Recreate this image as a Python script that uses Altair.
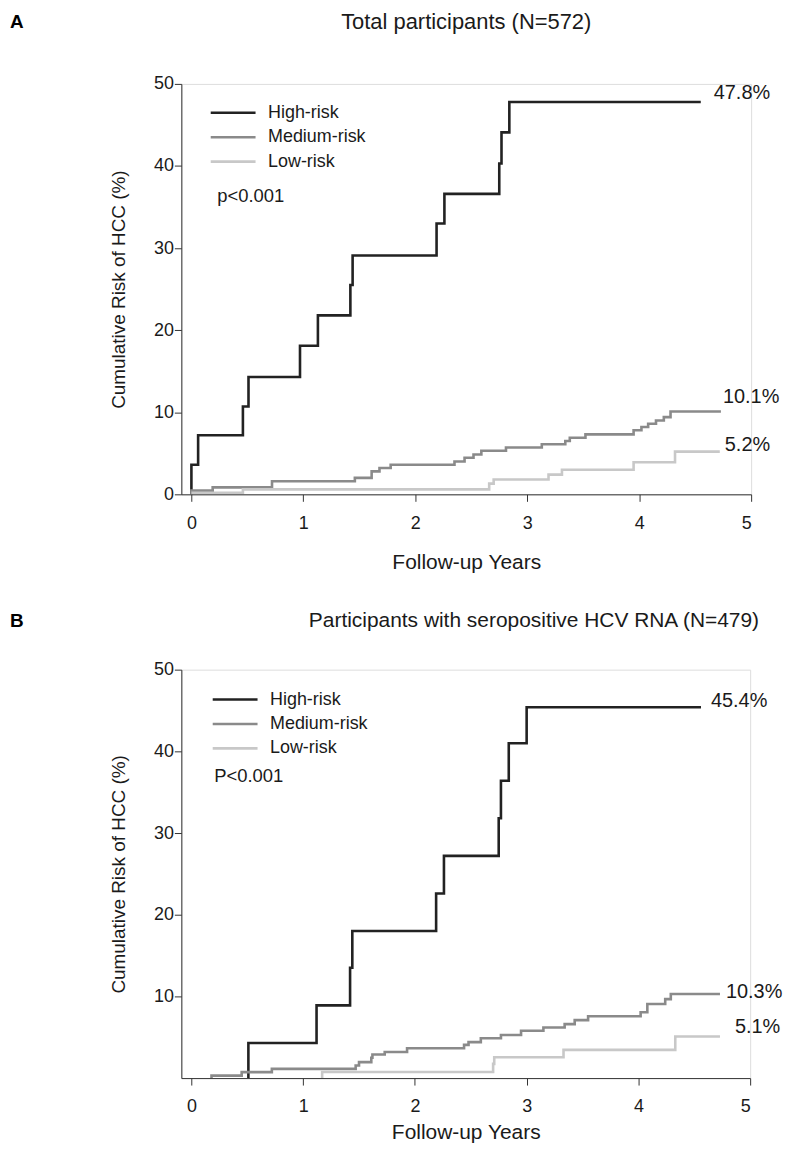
import altair as alt
import pandas as pd

groups = ["High-risk", "Medium-risk", "Low-risk"]
colors = ["#222222", "#8a8a8a", "#c8c8c8"]

# Panel A (Total participants)
A_high_t = [0, 0, 0.06, 0.46, 0.51, 0.97, 1.13, 1.42, 1.44, 2.19, 2.26, 2.75, 2.77, 2.84, 4.55]
A_high_v = [0, 3.6, 7.2, 10.7, 14.3, 18.1, 21.8, 25.5, 29.1, 33.0, 36.6, 40.3, 44.1, 47.8, 47.8]
A_med_t = [0, 0, 0.19, 0.72, 1.46, 1.61, 1.68, 1.78, 2.35, 2.44, 2.52, 2.59, 2.81, 3.13, 3.34,
           3.38, 3.52, 3.95, 4.02, 4.08, 4.15, 4.22, 4.28, 4.73]
A_med_v = [0, 0.45, 0.85, 1.6, 2.0, 2.8, 3.2, 3.6, 4.0, 4.45, 4.85, 5.3, 5.7, 6.1, 6.5,
           6.9, 7.3, 7.8, 8.2, 8.6, 9.0, 9.4, 10.1, 10.1]
A_low_t = [0, 0.46, 2.66, 2.70, 3.19, 3.31, 3.95, 4.32, 4.72]
A_low_v = [0.2, 0.6, 1.3, 1.8, 2.4, 3.0, 3.9, 5.2, 5.2]

# Panel B (seropositive HCV RNA)
B_high_t = [0.51, 0.51, 1.12, 1.42, 1.44, 2.19, 2.26, 2.75, 2.77, 2.84, 3.0, 4.56]
B_high_v = [0, 4.3, 8.9, 13.5, 18.0, 22.6, 27.2, 31.8, 36.4, 41.0, 45.4, 45.4]
B_med_t = [0.18, 0.18, 0.45, 0.72, 1.47, 1.50, 1.61, 1.62, 1.73, 1.93, 2.44, 2.48, 2.59, 2.77,
           2.95, 3.15, 3.34, 3.43, 3.55, 4.02, 4.08, 4.24, 4.29, 4.73]
B_med_v = [0, 0.3, 0.73, 1.13, 1.54, 1.95, 2.48, 2.88, 3.2, 3.66, 4.06, 4.4, 4.88, 5.28,
           5.8, 6.2, 6.6, 7.1, 7.56, 8.05, 9.06, 9.67, 10.3, 10.3]
B_low_t = [1.17, 1.17, 2.70, 2.71, 3.33, 4.33, 4.73]
B_low_v = [0, 0.75, 1.74, 2.56, 3.45, 5.1, 5.1]

A_end_text = ["47.8%", "10.1%", "5.2%"]
B_end_text = ["45.4%", "10.3%", "5.1%"]

FONT = "Liberation Sans"
TXT = "#1a1a1a"


def make_df(series):
    rows = []
    for g, ts, vs in series:
        for i, (t, v) in enumerate(zip(ts, vs)):
            rows.append({"group": g, "t": t, "v": v, "i": i})
    return pd.DataFrame(rows)


def panel(series, end_texts, end_offsets, letter, title, title_x, title_align, title_y,
          title_size, pval, pval_xy, y_ticks, w, h, legend_x, legend_y, xt_pad):
    df = make_df(series)
    xs = alt.Scale(domain=[-0.09, 5], nice=False, zero=False)
    ys = alt.Scale(domain=[0, 50], nice=False)
    xaxis = alt.Axis(values=[0, 1, 2, 3, 4, 5], format="d", title="Follow-up Years", grid=False,
                     tickSize=7, labelFontSize=18, titleFontSize=21, titleFontWeight="normal",
                     labelPadding=13, titlePadding=xt_pad, domainColor="#333", tickColor="#333",
                     labelColor=TXT, titleColor=TXT, labelFont=FONT, titleFont=FONT)
    yaxis = alt.Axis(values=y_ticks, format="d", title="Cumulative Risk of HCC (%)", grid=False,
                     tickSize=7, labelFontSize=18, titleFontSize=19, titleFontWeight="normal",
                     labelPadding=1, titlePadding=25, domainColor="#333", tickColor="#333",
                     labelColor=TXT, titleColor=TXT, labelFont=FONT, titleFont=FONT)
    lines = alt.Chart(df).mark_line(interpolate="step-after", strokeWidth=2.6).encode(
        x=alt.X("t:Q", scale=xs, axis=xaxis),
        y=alt.Y("v:Q", scale=ys, axis=yaxis),
        color=alt.Color("group:N", scale=alt.Scale(domain=groups, range=colors),
                        legend=alt.Legend(title=None, orient="none", legendX=legend_x,
                                          legendY=legend_y, symbolType="M-3,0H3",
                                          symbolSize=225, symbolStrokeWidth=2.6,
                                          labelFontSize=18, labelFont=FONT, labelColor=TXT,
                                          labelOffset=26, rowPadding=6.5, padding=0)),
        order=alt.Order("i:Q"),
    )
    layers = [lines]
    ends = []
    for g, ts, vs in series:
        ends.append((ts[-1], vs[-1]))
    for (t, v), txt, (dx, dy) in zip(ends, end_texts, end_offsets):
        d = pd.DataFrame({"t": [t], "v": [v], "label": [txt]})
        layers.append(alt.Chart(d).mark_text(align="left", baseline="middle", dx=dx, dy=dy,
                                             fontSize=20, font=FONT, color=TXT).encode(
            x=alt.X("t:Q", scale=xs), y=alt.Y("v:Q", scale=ys), text="label:N"))
    ann = pd.DataFrame({"k": [0]})
    layers.append(alt.Chart(ann).mark_text(align="left", baseline="middle", fontSize=18.5,
                                           font=FONT, color=TXT).encode(
        x=alt.value(pval_xy[0]), y=alt.value(pval_xy[1]), text=alt.value(pval)))
    layers.append(alt.Chart(ann).mark_text(align="left", baseline="middle", fontSize=19,
                                           fontWeight="bold", font=FONT, color="#000").encode(
        x=alt.value(-172), y=alt.value(title_y), text=alt.value(letter)))
    layers.append(alt.Chart(ann).mark_text(align=title_align, baseline="middle",
                                           fontSize=title_size, font=FONT, color=TXT).encode(
        x=alt.value(title_x), y=alt.value(title_y), text=alt.value(title)))
    return alt.layer(*layers).properties(width=w, height=h)


pA = panel([("High-risk", A_high_t, A_high_v), ("Medium-risk", A_med_t, A_med_v),
            ("Low-risk", A_low_t, A_low_v)],
           A_end_text, [(13, -9), (2, -14), (5, -7)],
           "A", "Total participants (N=572)", 286, "center", -62, 22,
           "p<0.001", (36, 113), [0, 10, 20, 30, 40, 50], 572, 412, 43, 20, 19)
pB = panel([("High-risk", B_high_t, B_high_v), ("Medium-risk", B_med_t, B_med_v),
            ("Low-risk", B_low_t, B_low_v)],
           B_end_text, [(10, -6), (6, -1.5), (15, -9)],
           "B", "Participants with seropositive HCV RNA (N=479)", 128, "left", -49, 21,
           "P<0.001", (33, 107), [10, 20, 30, 40, 50], 571, 410, 45, 21, 6)

chart = alt.vconcat(pA, pB, spacing=36).resolve_scale(color="independent").resolve_legend(
    color="independent").properties(padding={"left": 1, "top": 0, "right": 5, "bottom": 5}
).configure_view(stroke=None).configure(font=FONT)

chart.save("out.html", embed_options={"renderer": "svg", "actions": False})
